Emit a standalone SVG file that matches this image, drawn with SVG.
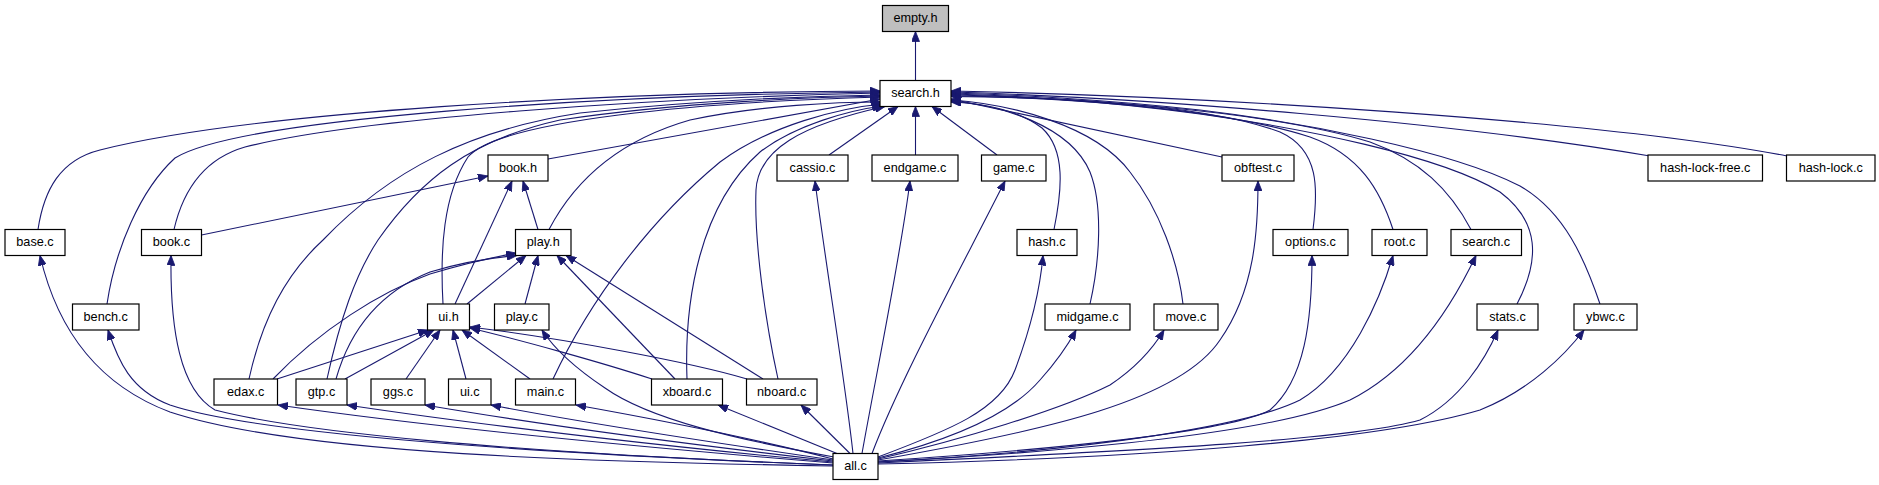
<svg xmlns="http://www.w3.org/2000/svg" width="1879" height="485" viewBox="0 0 1879 485">
<style>
.n rect{fill:#fff;stroke:#000;stroke-width:1.2}
.n text{font-family:"Liberation Sans",Arial,sans-serif;font-size:12.7px;text-anchor:middle;fill:#000}
.e path{fill:none;stroke:#191970;stroke-width:1.1;marker-end:url(#ah)}
</style>
<defs>
<marker id="ah" markerUnits="userSpaceOnUse" markerWidth="11" markerHeight="8" refX="10" refY="4" orient="auto" viewBox="0 0 11 8">
<path d="M0,0 L10,4 L0,8 z" fill="#191970" stroke="#191970" stroke-width="0.8"/>
</marker>
</defs>
<rect width="1879" height="485" fill="#fff"/>
<g id="connectors" class="e">
<path d="M915.5,80.5 L915.5,31.5"/>
<path d="M38,229.5 C44,190 60,160 100,150 C250,112 600,92 880,91"/>
<path d="M107,304 C115,250 140,190 175,158 C240,118 600,95 880,92"/>
<path d="M174,229.5 C182,195 200,160 245,147 C360,118 650,98 880,93"/>
<path d="M249,379 C262,320 285,275 323,240 C390,170 470,130 580,113 C700,100 820,96 880,95"/>
<path d="M327,379 C340,320 355,275 378,240 C420,180 470,140 560,120 C680,102 820,97 880,96"/>
<path d="M443,304 C440,250 443,195 468,157 C500,120 700,102 880,97"/>
<path d="M548,159 L880,99"/>
<path d="M549,229.5 C575,180 620,140 690,120 C760,105 840,102 881,102"/>
<path d="M553,379 C590,300 650,220 720,162 C770,125 840,108 882,104"/>
<path d="M687,379 C684,300 700,205 760,152 C795,125 850,110 883,106"/>
<path d="M778,379 C765,320 754,240 756,190 C758,150 800,125 885,106.5"/>
<path d="M829,155 L898,106.5"/>
<path d="M915.5,155 L915.5,106.5"/>
<path d="M997,155 L932,106.5"/>
<path d="M1054,229.5 C1062,190 1066,150 1042,128 C1015,108 975,103 951,102"/>
<path d="M1090,304 C1100,260 1103,205 1090,172 C1070,125 1000,105 951,101"/>
<path d="M1183,304 C1178,262 1160,210 1130,172 C1095,125 1010,104 951,100"/>
<path d="M1222,157 L951,99"/>
<path d="M1313,229.5 C1318,190 1320,150 1280,132 C1200,102 1040,97 951,96.5"/>
<path d="M1393,229.5 C1380,190 1360,155 1310,137 C1210,105 1040,97 951,96"/>
<path d="M1471,229.5 C1450,190 1420,160 1370,142 C1260,108 1050,97 951,95"/>
<path d="M1517,304 C1540,260 1540,222 1500,192 C1440,155 1300,128 1200,114 C1100,100 1000,95 951,94"/>
<path d="M1600,304 C1585,260 1565,212 1520,186 C1450,150 1300,122 1200,110 C1100,99 1000,94 951,93"/>
<path d="M1650,156 C1450,122 1150,98 951,92"/>
<path d="M1787,156 C1600,120 1200,96 951,91"/>
<path d="M201.5,235 L488,176"/>
<path d="M455,304 L512,181"/>
<path d="M538,229.5 L523,181"/>
<path d="M467,304 L526,255.5"/>
<path d="M525,304 L538,255.5"/>
<path d="M273,379 C320,330 380,292 430,274 C470,262 500,256 516,253"/>
<path d="M336,379 C350,330 380,292 430,272 C470,260 500,257 517,255.5"/>
<path d="M675,379 L557,255.5"/>
<path d="M763,379 L566,255.5"/>
<path d="M277,379 L428,330"/>
<path d="M345,379 L434,330"/>
<path d="M406,379 L440,330"/>
<path d="M466,379 L453,330"/>
<path d="M530,379 L462,330"/>
<path d="M652,379 C600,362 520,340 470,328"/>
<path d="M747,379 C690,362 560,338 470,327"/>
<path d="M833,466 C600,462 300,455 170,412 C90,382 55,320 40,255.5"/>
<path d="M833,465 C500,452 250,432 170,405 C130,390 118,360 108,330"/>
<path d="M833,465 C500,452 300,432 215,410 C180,390 170,330 171,255.5"/>
<path d="M833,463 C700,452 450,430 278,405"/>
<path d="M833,462 C700,450 500,428 347,405"/>
<path d="M833,461 C720,448 560,428 425,405"/>
<path d="M833,460 C730,445 600,426 491,405"/>
<path d="M833,459 C760,440 660,420 576,405"/>
<path d="M834,457 C740,440 650,420 605,388 C575,368 555,350 542,330"/>
<path d="M837,453.5 L718,405"/>
<path d="M850,453.5 L801,405"/>
<path d="M853,453.5 C845,380 825,260 815,181"/>
<path d="M862,453.5 C875,380 900,260 910,181"/>
<path d="M872,453.5 C900,380 960,270 1005,181"/>
<path d="M878,457 C950,430 1000,410 1015,370 C1030,330 1040,290 1043,255.5"/>
<path d="M878,458 C950,440 1010,415 1040,380 C1058,360 1068,345 1076,330"/>
<path d="M878,459 C960,440 1060,410 1110,385 C1140,365 1155,345 1164,330"/>
<path d="M878,460 C1050,430 1180,400 1220,340 C1255,290 1258,230 1258,181"/>
<path d="M878,461 C1050,450 1230,432 1270,410 C1305,380 1312,320 1312,255.5"/>
<path d="M878,462 C1100,450 1250,425 1300,400 C1350,370 1380,300 1393,255.5"/>
<path d="M878,462 C1100,450 1280,430 1350,400 C1410,370 1450,310 1476,255.5"/>
<path d="M878,463 C1150,450 1350,440 1420,420 C1460,400 1485,360 1498,330"/>
<path d="M878,464 C1150,458 1380,440 1480,410 C1530,390 1565,355 1584,330"/>
</g>
<g id="empty_h" class="n"><rect x="882.5" y="5.5" width="66" height="26" style="fill:#bfbfbf"/><text x="915.5" y="22">empty.h</text></g>
<g id="search_h" class="n"><rect x="880" y="80.5" width="71" height="26"/><text x="915.5" y="97">search.h</text></g>
<g id="book_h" class="n"><rect x="488" y="155" width="60" height="26"/><text x="518" y="171.5">book.h</text></g>
<g id="cassio_c" class="n"><rect x="777" y="155" width="71" height="26"/><text x="812.5" y="171.5">cassio.c</text></g>
<g id="endgame_c" class="n"><rect x="872" y="155" width="86" height="26"/><text x="915" y="171.5">endgame.c</text></g>
<g id="game_c" class="n"><rect x="981.5" y="155" width="64.5" height="26"/><text x="1013.75" y="171.5">game.c</text></g>
<g id="obftest_c" class="n"><rect x="1222" y="155" width="72" height="26"/><text x="1258" y="171.5">obftest.c</text></g>
<g id="hash_lock_free_c" class="n"><rect x="1648" y="155" width="114.5" height="26"/><text x="1705.25" y="171.5">hash-lock-free.c</text></g>
<g id="hash_lock_c" class="n"><rect x="1786.5" y="155" width="88.5" height="26"/><text x="1830.75" y="171.5">hash-lock.c</text></g>
<g id="base_c" class="n"><rect x="5" y="229.5" width="60" height="26"/><text x="35" y="246">base.c</text></g>
<g id="book_c" class="n"><rect x="141.5" y="229.5" width="60" height="26"/><text x="171.5" y="246">book.c</text></g>
<g id="play_h" class="n"><rect x="515.5" y="229.5" width="55.5" height="26"/><text x="543.25" y="246">play.h</text></g>
<g id="hash_c" class="n"><rect x="1017" y="229.5" width="60" height="26"/><text x="1047" y="246">hash.c</text></g>
<g id="options_c" class="n"><rect x="1273" y="229.5" width="75" height="26"/><text x="1310.5" y="246">options.c</text></g>
<g id="root_c" class="n"><rect x="1372" y="229.5" width="55" height="26"/><text x="1399.5" y="246">root.c</text></g>
<g id="search_c" class="n"><rect x="1451" y="229.5" width="70.5" height="26"/><text x="1486.25" y="246">search.c</text></g>
<g id="bench_c" class="n"><rect x="72.5" y="304" width="66.5" height="26"/><text x="105.75" y="320.5">bench.c</text></g>
<g id="ui_h" class="n"><rect x="427.5" y="304" width="42" height="26"/><text x="448.5" y="320.5">ui.h</text></g>
<g id="play_c" class="n"><rect x="494.5" y="304" width="54.5" height="26"/><text x="521.75" y="320.5">play.c</text></g>
<g id="midgame_c" class="n"><rect x="1045" y="304" width="85" height="26"/><text x="1087.5" y="320.5">midgame.c</text></g>
<g id="move_c" class="n"><rect x="1154" y="304" width="64" height="26"/><text x="1186" y="320.5">move.c</text></g>
<g id="stats_c" class="n"><rect x="1477" y="304" width="61" height="26"/><text x="1507.5" y="320.5">stats.c</text></g>
<g id="ybwc_c" class="n"><rect x="1574" y="304" width="63" height="26"/><text x="1605.5" y="320.5">ybwc.c</text></g>
<g id="edax_c" class="n"><rect x="214" y="379" width="63.5" height="26"/><text x="245.75" y="395.5">edax.c</text></g>
<g id="gtp_c" class="n"><rect x="296" y="379" width="51" height="26"/><text x="321.5" y="395.5">gtp.c</text></g>
<g id="ggs_c" class="n"><rect x="371" y="379" width="54" height="26"/><text x="398" y="395.5">ggs.c</text></g>
<g id="ui_c" class="n"><rect x="448.5" y="379" width="42.5" height="26"/><text x="469.75" y="395.5">ui.c</text></g>
<g id="main_c" class="n"><rect x="515.5" y="379" width="60" height="26"/><text x="545.5" y="395.5">main.c</text></g>
<g id="xboard_c" class="n"><rect x="651.5" y="379" width="71" height="26"/><text x="687" y="395.5">xboard.c</text></g>
<g id="nboard_c" class="n"><rect x="746.5" y="379" width="70.5" height="26"/><text x="781.75" y="395.5">nboard.c</text></g>
<g id="all_c" class="n"><rect x="833" y="453.5" width="45" height="26"/><text x="855.5" y="470">all.c</text></g>
</svg>
